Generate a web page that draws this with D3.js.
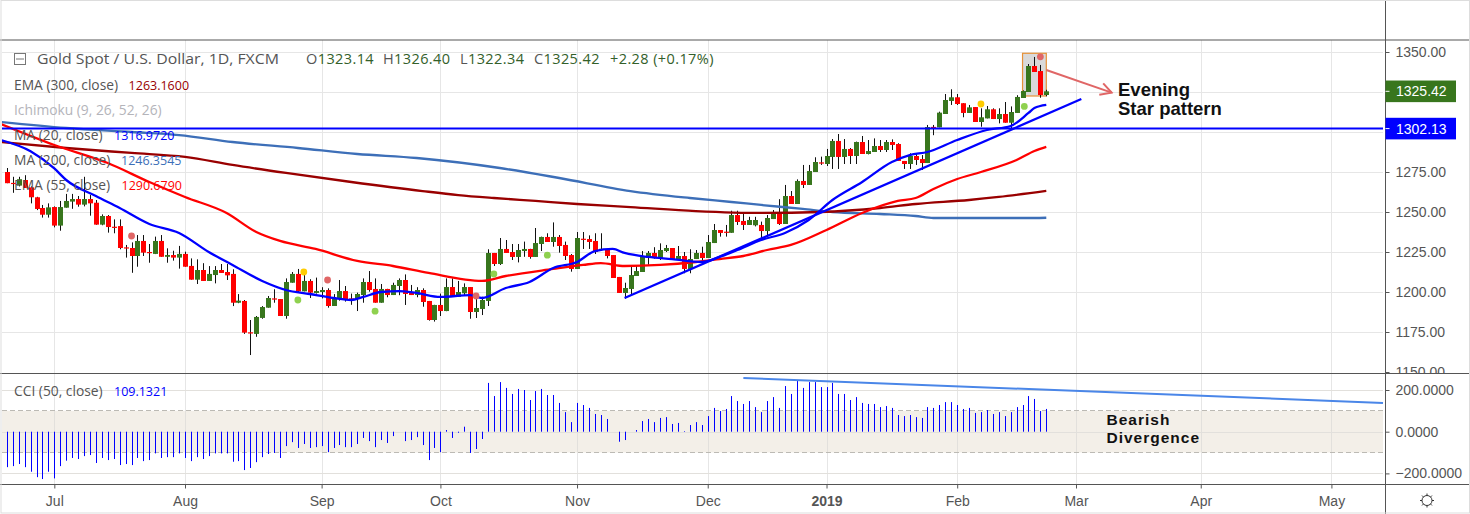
<!DOCTYPE html>
<html>
<head>
<meta charset="utf-8">
<script src="https://cdnjs.cloudflare.com/ajax/libs/d3/7.8.5/d3.min.js"></script>
<style>
html, body { margin:0; padding:0; background:#fff; }
svg { display:block; }
text { font-family:"Open Sans", sans-serif; }
.axis text { font-family:"Liberation Sans", Arial, sans-serif; font-size:14px; fill:#555; }
.axis line { stroke:#555; }
.axis path { display:none; }
.note { font-family:"Liberation Sans", Arial, sans-serif; font-weight:bold; fill:#111; }
</style>
</head>
<body>
<script>
// daily bars, 176 of them
var opens = [1275,1268.2,1266.5,1270,1265.4,1259.2,1252.5,1248.3,1253.1,1241.5,
  1252.7,1256.5,1258.1,1254.6,1258.1,1255.8,1242.1,1247.5,1240.8,1241.2,
  1227.9,1227.5,1222.5,1231.9,1225,1223.8,1231.9,1222,1223.1,1221.5,
  1223.8,1216.3,1207.7,1213.75,1206.9,1210.6,1213.75,1212.5,1211.3,1193.3,
  1194.4,1174.8,1173.8,1183.8,1190.2,1196,1195.6,1185,1205.8,1211.3,
  1200.4,1206.9,1199.4,1200,1201.25,1191.25,1196,1200.6,1196,1195.6,
  1198.1,1206.25,1201.9,1193.3,1201.9,1198.1,1203.75,1207.5,1200,1198.1,
  1201.25,1194.4,1182.5,1191.9,1188.1,1203.1,1196.9,1199.2,1203.1,1187.5,
  1189.4,1194.4,1224.4,1217.5,1226.9,1225,1221.9,1225.6,1226.9,1221.9,
  1230,1234.4,1231.25,1234.4,1229.4,1223.1,1214.4,1233.3,1233.1,1231.9,
  1226.5,1226.25,1223.1,1209.4,1199.4,1201.9,1210,1212.5,1221.25,1224.4,
  1221.25,1225.6,1227.5,1220.6,1222.5,1214.4,1220.6,1224.4,1221.25,1230.6,
  1238.75,1237.7,1237,1248.1,1244.4,1241.9,1241.7,1241.9,1238.1,1245.6,
  1249.4,1242.5,1260,1255,1269.4,1266.9,1275,1281,1280,1284.4,
  1294.4,1284.4,1289.4,1285,1293.75,1286.25,1287.5,1291.25,1288.75,1293.75,
  1292.5,1281.9,1280,1285,1283.1,1280.6,1303.2,1302.9,1311.25,1319.4,
  1321.7,1318,1311.9,1315.6,1306.25,1308.5,1314.2,1308.1,1311.25,1305.8,
  1311.9,1321.25,1325,1341.25,1338.1,1323.14];
var highs = [1277.5,1272,1272,1273,1266,1259.5,1254.4,1255.4,1253.5,1256.9,
  1261.3,1261.3,1260,1272,1260.6,1257.5,1248.5,1248.1,1245.4,1245.4,
  1229.4,1231,1235.6,1235.6,1230,1234.6,1235.6,1227.3,1225.8,1228.8,
  1225.2,1221,1220.4,1218,1216.2,1216.2,1217.5,1217.5,1214.2,1198.7,
  1195,1182.5,1185,1191.2,1197.5,1201.7,1195.6,1208.5,1212.5,1214.4,
  1212,1208,1209,1203,1202.3,1198.7,1207.5,1203.75,1199,1199.6,
  1208.5,1213.1,1208.5,1205,1202,1205.8,1208.5,1211,1204.4,1203,
  1202.3,1194.4,1192,1199,1208.5,1208.5,1206.9,1205.4,1203.1,1197,
  1197,1226.7,1224.4,1233.75,1232.5,1230,1230,1231.5,1227,1240,
  1234.6,1236.7,1243.5,1235.6,1231.5,1223.75,1237.5,1237.5,1235.4,1236.7,
  1236.7,1226.25,1223.1,1209.4,1205.8,1216.25,1216.25,1225.6,1225.6,1228,
  1230.4,1229.4,1227.5,1228.75,1225,1226.7,1226.25,1228.3,1235.6,1242.5,
  1238.75,1241.9,1250.8,1250.8,1249.6,1247,1247,1244,1248.1,1251.25,
  1258,1266.9,1263.1,1270.4,1279.4,1279.4,1284.2,1284.6,1289.4,1295.6,
  1298.75,1295.6,1290,1294,1297.5,1295,1296,1295,1295,1295.4,
  1293,1281.9,1286.7,1286.7,1285.6,1304.4,1304.4,1312.7,1323.75,1326.7,
  1323.75,1318,1316.9,1315.6,1314.8,1316.25,1314.8,1314.8,1318.75,1316,
  1323,1326,1342.5,1346.9,1341.9,1326.4];
var lows = [1268,1262,1266,1265,1255.4,1251.2,1246.5,1246.5,1240.4,1238.3,
  1252.7,1252,1253.3,1253.5,1247.7,1242,1241.7,1237.1,1236.7,1226.7,
  1221.5,1212,1215.8,1222.5,1218.3,1223.7,1222,1218.3,1219.6,1214.6,
  1215.8,1207.7,1205,1206.9,1206.9,1205.4,1211.9,1207.5,1191.2,1193,
  1173.8,1160.6,1172,1183.3,1190.2,1193.3,1185,1183.3,1205.8,1199.6,
  1200.4,1196.25,1199,1196,1190.2,1191.25,1194.6,1194,1192,1188.1,
  1193.3,1200.2,1193.3,1193.3,1196.7,1198.1,1198,1191.9,1198.1,1196.7,
  1190.8,1182.1,1181.5,1185,1188,1196.9,1196.9,1198.1,1183.3,1183.75,
  1185.6,1191.25,1216.25,1216.9,1224.4,1220,1218.5,1222,1220.8,1221.9,
  1225.6,1231.25,1228.3,1224.6,1220,1212.7,1214.4,1226.9,1226.9,1223.75,
  1226,1221,1208.75,1199.4,1195.8,1198.1,1210,1212.5,1217,1220.8,
  1220,1225,1220.6,1220,1211.7,1211.7,1220.6,1217.5,1221.25,1230.6,
  1234.6,1234.6,1237,1241.9,1238.75,1241.9,1241,1233,1234.6,1245.6,
  1241.9,1242.5,1255,1255,1265,1266.9,1275,1279.4,1278.75,1276.9,
  1276.9,1280,1280,1280,1286.25,1286,1287.5,1287.5,1287.5,1288.75,
  1281.9,1276.9,1276.9,1279.4,1276.25,1280.6,1298,1302.9,1311.25,1316.9,
  1316.9,1309.2,1311.9,1306.25,1303.3,1308.5,1308.1,1305.4,1305.8,1302.3,
  1311.9,1321.25,1325,1337.5,1321.4,1322.34];
var closes = [1268,1268,1270.5,1265,1259.2,1251.9,1248.3,1252.9,1241.5,1253.1,
  1256.9,1258.1,1254.6,1258.1,1255.4,1242.1,1247.5,1240.6,1240.6,1227.5,
  1227.7,1222.5,1231.9,1224.6,1224.8,1231.9,1222,1223.1,1221.5,1223.8,
  1215.8,1207.7,1213.75,1206.9,1211.3,1213.75,1211.9,1210.4,1193.3,1194.6,
  1174.6,1174.6,1184.4,1190.6,1196.25,1195.8,1185,1206.25,1211.3,1200.4,
  1206.9,1199.6,1200.6,1201.25,1191.25,1196,1200.6,1195.4,1195.8,1198.75,
  1206.25,1201.25,1193.3,1201.9,1198.1,1204.4,1207.5,1198.75,1198.1,1201.25,
  1193.75,1182.5,1191.9,1188.1,1203.1,1196.9,1200,1203.1,1187.5,1190,
  1195,1224.4,1217.5,1226.9,1224.4,1221.9,1226.25,1226.9,1221.9,1230.6,
  1234.4,1231.25,1234.4,1228.75,1222.5,1214.4,1233.75,1233.1,1231.25,1225,
  1227,1222.5,1208.75,1199.4,1202.5,1210.6,1213.1,1221.9,1224.4,1221.25,
  1226.25,1227.5,1220.6,1222.5,1214.4,1220.6,1224.4,1221.25,1231.25,1238.75,
  1236.9,1237.5,1248.1,1243.75,1241.9,1245,1245,1238.1,1246.25,1249.4,
  1242.5,1260,1255,1269.4,1266.9,1275.6,1281.25,1280.8,1285,1294.4,
  1284.4,1289.4,1285,1293.75,1286.25,1288.1,1291.25,1288.75,1293.75,1291.9,
  1281.9,1280,1285,1282.5,1280.6,1303.1,1303,1312.1,1320,1321.7,
  1317.5,1311.9,1315.4,1306.25,1309.2,1314.2,1308.1,1311.25,1305.8,1312.5,
  1321.9,1325.6,1341.25,1337.5,1323.1,1325.42];

var cciValues = [-170,-165,-155,-170,-192,-218,-227,-192,-224,-165,
  -139,-126,-131,-117,-112,-150,-126,-136,-131,-160,
  -155,-160,-126,-141,-136,-104,-126,-122,-122,-104,
  -126,-141,-122,-131,-117,-104,-104,-104,-144,-141,
  -184,-174,-146,-122,-107,-102,-126,-69,-50,-78,
  -59,-78,-74,-69,-98,-78,-64,-74,-74,-59,
  -30,-45,-74,-40,-54,-21,0,-45,-40,-26,
  -64,-136,-78,-98,8,-30,-5,24,-102,-83,
  -35,234,171,238,210,181,205,200,152,195,
  205,176,176,138,94,46,138,128,114,85,
  80,61,0,-48,-40,0,8,51,61,46,
  66,70,37,42,3,32,46,32,75,114,
  99,109,171,147,133,147,118,94,147,166,
  114,219,181,243,210,238,238,214,214,234,
  181,181,152,166,138,133,133,118,123,114,
  80,75,80,70,66,118,114,128,142,142,
  128,109,114,90,94,104,85,94,75,94,
  118,128,171,157,99,109.13];

// moving averages: the bar each vertex sits on, and its price
var ma20Bars = [-1,4,8,10,15,19,24,29,34,38,43,47,51,55,58,60,63,66,69,73,78,80,84,88,92,96,99,102,104,108,112,117,120,123,127,131,135,139,144,149,152,155,160,165,169,172,173,175];
var ma20Vals = [1295,1288,1277.2,1270,1260,1252.5,1242.5,1236.9,1225,1216.9,1206.9,1201.25,1198.75,1196.25,1195,1196.9,1200,1200.6,1199.4,1196.9,1198.1,1196.25,1202.5,1206.25,1215,1218.75,1225.6,1226.9,1224.4,1221.9,1220.6,1218.75,1221.9,1226.25,1232.5,1236.9,1245,1257.5,1268.75,1281.25,1285.6,1287.5,1295,1301.25,1303.75,1311.9,1315,1317];
var ema55Bars = [-1,8,17,24,30,37,42,46,52,59,65,71,80,84,92,97,100,104,110,116,120,124,128,132,138,144,150,153,156,160,164,170,173,175];
var ema55Vals = [1305,1291.9,1280.6,1268.75,1259.4,1249.4,1237.5,1231.9,1226.9,1219.4,1216.25,1211.9,1206.9,1210,1214.4,1216.9,1218.1,1216.25,1216.9,1218.75,1220.6,1222.5,1226.25,1229.4,1238.75,1249.4,1256.9,1258.75,1264.4,1270.6,1275,1282.5,1288.1,1290.7];
var ema300Bars = [-1,10,21,30,38,47,58,70,76,82,89,96,105,116,127,137,147,153,162,167,175];
var ema300Vals = [1293.75,1290,1286.9,1284.4,1279.4,1274.4,1268.75,1263.1,1260.6,1258.75,1256.9,1255,1253.1,1250.6,1249.4,1250,1252.5,1255,1257.5,1259.4,1263.2];
var ma200Bars = [-1,10,21,29,38,49,59,69,83,93,105,115,122,127,134,139,147,153,156,173,175];
var ma200Vals = [1306.25,1302.5,1300,1298.1,1293.75,1290,1286.25,1283.75,1277.5,1271.25,1263.1,1258.75,1256.25,1254.4,1251.9,1250,1248.75,1247.5,1246.25,1246.25,1246.4];

var priceTicks = [1350,1325,1300,1275,1250,1225,1200,1175,1150];
// 1325 and 1300 sit behind the two coloured price labels
var priceAxisTicks = [1350,1275,1250,1225,1200,1175,1150];
var cciTicks = [200,0,-200];
var monthBars = [8,30,53,73,96,118,138,160,180,201,223];
var monthLabels = ["Jul","Aug","Sep","Oct","Nov","Dec","2019","Feb","Mar","Apr","May"];

var lastPrice = 1325.42;
var supportLevel = 1302.13;

var dotBars = [21,50,49,54,62,79,82,91,164,171.3,174];
var dotPrices = [1235,1212.5,1195,1207.5,1188,1197.5,1211.25,1223,1317.5,1316,1347];
var dotTypes = ["r","y","g","r","g","r","g","g","y","g","r"];
var dotColors = {r:"#e06666", y:"#ffcc00", g:"#8fd14f"};

var legendNames = ["EMA (300, close)","Ichimoku (9, 26, 52, 26)","MA (20, close)","MA (200, close)","EMA (55, close)"];
var legendValues = ["1263.1600","","1316.9720","1246.3545","1290.6790"];
var legendColors = ["#990000","","#0000ff","#3d6fb8","#ff0000"];
var legendValueX = [128.6,0,114,121,121.5];

var screen = {width:1470, height:514};
var paneRight = 1383, axisX = 1385.5;
var topY = 40, sepY = 373.5, bottomY = 484.5;

var svg = d3.select("body")
            .append("svg")
            .attr("width", screen.width)
            .attr("height", screen.height);

var defs = svg.append("defs");
defs.append("clipPath").attr("id", "pricePane")
    .append("rect").attr("x", 2).attr("y", topY).attr("width", paneRight - 2).attr("height", sepY - topY);
defs.append("clipPath").attr("id", "priceAxis")
    .append("rect").attr("x", 0).attr("y", topY).attr("width", 90).attr("height", sepY - topY);
defs.append("marker").attr("id", "chevron")
    .attr("viewBox", "0 0 14 14").attr("refX", 12).attr("refY", 7)
    .attr("markerWidth", 14).attr("markerHeight", 14)
    .attr("markerUnits", "userSpaceOnUse").attr("orient", "auto")
    .append("path").attr("d", "M1,1 L12,7 L1,13")
    .attr("fill", "none").attr("stroke", "#e06666").attr("stroke-width", 2);

var xScale = d3.scaleLinear().domain([0, 175]).range([6.8, 1046.3]);
var yPrice = d3.scaleLinear().domain([1350, 1150]).range([52, 372]);
var yCci = d3.scaleLinear().domain([200, -200]).range([390, 473.4]);

// grid
var grid = svg.append("g").attr("stroke", "#e6e6e6").attr("stroke-width", 1);
grid.selectAll(".v").data(monthBars).enter().append("line")
    .attr("x1", function(d){return Math.round(xScale(d)) + 0.5})
    .attr("x2", function(d){return Math.round(xScale(d)) + 0.5})
    .attr("y1", topY).attr("y2", bottomY);
grid.selectAll(".hp").data(priceTicks.slice(0, 8)).enter().append("line")
    .attr("x1", 2).attr("x2", paneRight)
    .attr("y1", function(d){return Math.round(yPrice(d)) + 0.5})
    .attr("y2", function(d){return Math.round(yPrice(d)) + 0.5});

// cci band goes under its own grid lines
svg.append("rect")
   .attr("x", 2).attr("width", paneRight - 2)
   .attr("y", yCci(100)).attr("height", yCci(-100) - yCci(100))
   .attr("fill", "#f3efe8");
var grid2 = svg.append("g").attr("stroke", "#e2e0dc");
grid2.selectAll("line").data(cciTicks).enter().append("line")
    .attr("x1", 2).attr("x2", paneRight)
    .attr("y1", function(d){return Math.round(yCci(d)) + 0.5})
    .attr("y2", function(d){return Math.round(yCci(d)) + 0.5});
grid2.selectAll(".v").data(monthBars).enter().append("line")
    .attr("x1", function(d){return Math.round(xScale(d)) + 0.5})
    .attr("x2", function(d){return Math.round(xScale(d)) + 0.5})
    .attr("y1", yCci(100)).attr("y2", yCci(-100));
svg.selectAll(".band").data([100, -100]).enter().append("line")
   .attr("x1", 2).attr("x2", paneRight)
   .attr("y1", function(d){return Math.floor(yCci(d)) + 0.5})
   .attr("y2", function(d){return Math.floor(yCci(d)) + 0.5})
   .attr("stroke", "#bcbab4").attr("stroke-dasharray", "5,3");

var price = svg.append("g").attr("clip-path", "url(#pricePane)");

// the grey box behind the last bars
price.append("rect")
     .attr("x", xScale(171)).attr("width", xScale(175) - xScale(171))
     .attr("y", yPrice(1349.2)).attr("height", yPrice(1322.5) - yPrice(1349.2))
     .attr("fill", "#d9d9d9").attr("stroke", "#e69138").attr("stroke-width", 1.2);

var lineGen = function(bars)
{
  return d3.line()
           .x(function(d, i){return xScale(bars[i])})
           .y(function(d){return yPrice(d)})
           .curve(d3.curveMonotoneX);
}

var movingAverages = [
  {bars:ma200Bars, vals:ma200Vals, color:"#3d6fb8"},
  {bars:ema300Bars, vals:ema300Vals, color:"#990000"},
  {bars:ema55Bars, vals:ema55Vals, color:"#ff0000"},
  {bars:ma20Bars, vals:ma20Vals, color:"#0000ff"}
];

// candles
var bars = price.append("g").selectAll("g")
                .data(closes)
                .enter()
                .append("g");
bars.append("line")
    .attr("x1", function(d, i){return Math.round(xScale(i)) + 0.5})
    .attr("x2", function(d, i){return Math.round(xScale(i)) + 0.5})
    .attr("y1", function(d, i){return yPrice(highs[i])})
    .attr("y2", function(d, i){return yPrice(lows[i])})
    .attr("stroke", "#111");
bars.append("rect")
    .attr("x", function(d, i){return Math.round(xScale(i)) - 2})
    .attr("width", 5)
    .attr("y", function(d, i){return yPrice(Math.max(opens[i], d))})
    .attr("height", function(d, i){return Math.max(1.2, Math.abs(yPrice(opens[i]) - yPrice(d)))})
    .attr("fill", function(d, i){return d >= opens[i] ? "#38761d" : "#ff0000"});

movingAverages.forEach(function(m)
{
  price.append("path")
       .attr("d", lineGen(m.bars)(m.vals))
       .attr("fill", "none")
       .attr("stroke", m.color)
       .attr("stroke-width", 2.3)
       .attr("stroke-linejoin", "round");
});

// drawn trend line and the horizontal level
price.append("line")
     .attr("x1", xScale(104)).attr("y1", yPrice(1196.25))
     .attr("x2", xScale(180.9)).attr("y2", yPrice(1320.6))
     .attr("stroke", "#0000ff").attr("stroke-width", 2.3);
price.append("line")
     .attr("x1", 2).attr("x2", paneRight)
     .attr("y1", yPrice(supportLevel)).attr("y2", yPrice(supportLevel))
     .attr("stroke", "#0000ff").attr("stroke-width", 2);

price.selectAll("circle")
     .data(dotBars)
     .enter()
     .append("circle")
     .attr("cx", function(d){return xScale(d)})
     .attr("cy", function(d, i){return yPrice(dotPrices[i])})
     .attr("r", 3.4)
     .attr("fill", function(d, i){return dotColors[dotTypes[i]]});

// arrow to the note
svg.append("line")
   .attr("x1", xScale(175)).attr("y1", yPrice(1338.75))
   .attr("x2", xScale(186)).attr("y2", yPrice(1324.6))
   .attr("stroke", "#e06666").attr("stroke-width", 2)
   .attr("marker-end", "url(#chevron)");

svg.append("text").attr("class", "note").attr("x", 1118).attr("y", 96).style("font-size", "18.5px").text("Evening");
svg.append("text").attr("class", "note").attr("x", 1118).attr("y", 115).style("font-size", "18.5px").text("Star pattern");

// cci
svg.append("g").selectAll("rect")
   .data(cciValues)
   .enter()
   .append("rect")
   .attr("x", function(d, i){return Math.round(xScale(i))})
   .attr("width", 1)
   .attr("y", function(d){return Math.min(yCci(d), yCci(0))})
   .attr("height", function(d){return Math.abs(yCci(d) - yCci(0))})
   .attr("fill", "#0000ff");

svg.append("line")
   .attr("x1", xScale(124)).attr("y1", yCci(258))
   .attr("x2", paneRight).attr("y2", yCci(138))
   .attr("stroke", "#4a86e8").attr("stroke-width", 2);

svg.append("text").attr("class", "note").attr("x", 1106.5).attr("y", 425).style("font-size", "15.5px").style("letter-spacing", "1px").text("Bearish");
svg.append("text").attr("class", "note").attr("x", 1106.5).attr("y", 442.5).style("font-size", "15.5px").style("letter-spacing", "1px").text("Divergence");

// pane borders
var frame = svg.append("g").attr("stroke", "#555");
[topY, sepY, bottomY].forEach(function(y)
{
  frame.append("line").attr("x1", 0).attr("x2", screen.width).attr("y1", y).attr("y2", y);
});
frame.append("line").attr("x1", axisX).attr("x2", axisX).attr("y1", 0).attr("y2", screen.height);
svg.append("rect").attr("x", 1).attr("y", 0.5).attr("width", screen.width - 1.5).attr("height", screen.height - 1.5)
   .attr("fill", "none").attr("stroke", "#ddd");

// axes
svg.append("g")
   .attr("class", "axis")
   .attr("clip-path", "url(#priceAxis)")
   .attr("transform", "translate(" + axisX + ",0)")
   .call(d3.axisRight(yPrice).tickValues(priceAxisTicks).tickSize(4).tickPadding(6).tickFormat(d3.format(".2f")));

svg.append("g")
   .attr("class", "axis")
   .attr("transform", "translate(" + axisX + ",0)")
   .call(d3.axisRight(yCci).tickValues(cciTicks).tickSize(4).tickPadding(6).tickFormat(d3.format(".4f")));

var timeAxis = svg.append("g")
   .attr("class", "axis")
   .attr("transform", "translate(0," + bottomY + ")")
   .call(d3.axisBottom(xScale)
           .tickValues(monthBars)
           .tickSize(4)
           .tickPadding(8)
           .tickFormat(function(d, i){return monthLabels[i]}));
timeAxis.selectAll("text")
        .style("font-weight", function(d, i){return monthLabels[i] === "2019" ? "bold" : "normal"});

// price labels on the axis
var priceLabels = [
  {val:lastPrice, color:"#38761d"},
  {val:supportLevel, color:"#0000ff"}
];
priceLabels.forEach(function(p)
{
  var yy = yPrice(p.val);
  svg.append("rect")
     .attr("x", axisX).attr("y", yy - 10.8).attr("width", 70.5).attr("height", 21.6)
     .attr("fill", p.color);
  svg.append("line")
     .attr("x1", axisX).attr("x2", axisX + 4).attr("y1", yy).attr("y2", yy)
     .attr("stroke", "#fff");
  svg.append("text")
     .attr("x", axisX + 10.5).attr("y", yy + 5)
     .style("font-family", "'Liberation Sans', Arial, sans-serif")
     .style("font-size", "14px")
     .attr("fill", "#fff")
     .text(d3.format(".2f")(p.val));
});

// header
svg.append("rect").attr("x", 14.5).attr("y", 53.5).attr("width", 11).attr("height", 11)
   .attr("fill", "#fff").attr("stroke", "#777");
svg.append("line").attr("x1", 16).attr("x2", 24).attr("y1", 59).attr("y2", 59).attr("stroke", "#777");
svg.append("text").attr("x", 37).attr("y", 64)
   .attr("textLength", 242).attr("lengthAdjust", "spacingAndGlyphs")
   .style("font-size", "15px").attr("fill", "#555")
   .text("Gold Spot / U.S. Dollar, 1D, FXCM");

var ohlcLetters = ["O","H","L","C"];
var ohlcVals = ["1323.14","1326.40","1322.34","1325.42"];
var ohlcX = [306,383,460,534];
ohlcLetters.forEach(function(l, i)
{
  var t = svg.append("text").attr("x", ohlcX[i]).attr("y", 64).style("font-size", "14.5px").style("letter-spacing", "0.4px").attr("fill", "#555");
  t.append("tspan").text(l);
  t.append("tspan").attr("fill", "#33602a").text(ohlcVals[i]);
});
svg.append("text").attr("x", 610).attr("y", 64).style("font-size", "14.5px").style("letter-spacing", "0.4px")
   .attr("fill", "#33602a").text("+2.28 (+0.17%)");

legendNames.forEach(function(name, i)
{
  var yy = 89.5 + i * 25;
  svg.append("text").attr("x", 14).attr("y", yy)
     .style("font-size", "13.8px")
     .attr("fill", i == 1 ? "#b4b4ba" : "#555")
     .text(name);
  if(legendValues[i] !== "")
  {
    svg.append("text").attr("x", legendValueX[i]).attr("y", yy)
       .style("font-size", "12.5px")
       .attr("fill", legendColors[i])
       .text(legendValues[i]);
  }
});
svg.append("text").attr("x", 14).attr("y", 396).style("font-size", "13.8px").attr("fill", "#555").text("CCI (50, close)");
svg.append("text").attr("x", 114).attr("y", 396).style("font-size", "12.5px").attr("fill", "#0000ff").text("109.1321");

// settings gear
var gear = svg.append("g").attr("transform", "translate(1427,500.5)").attr("stroke", "#333").attr("fill", "none");
gear.append("circle").attr("r", 5);
d3.range(8).forEach(function(k)
{
  var a = k * Math.PI / 4;
  gear.append("line")
      .attr("x1", 5 * Math.cos(a)).attr("y1", 5 * Math.sin(a))
      .attr("x2", 7 * Math.cos(a)).attr("y2", 7 * Math.sin(a));
});
</script>
</body>
</html>
